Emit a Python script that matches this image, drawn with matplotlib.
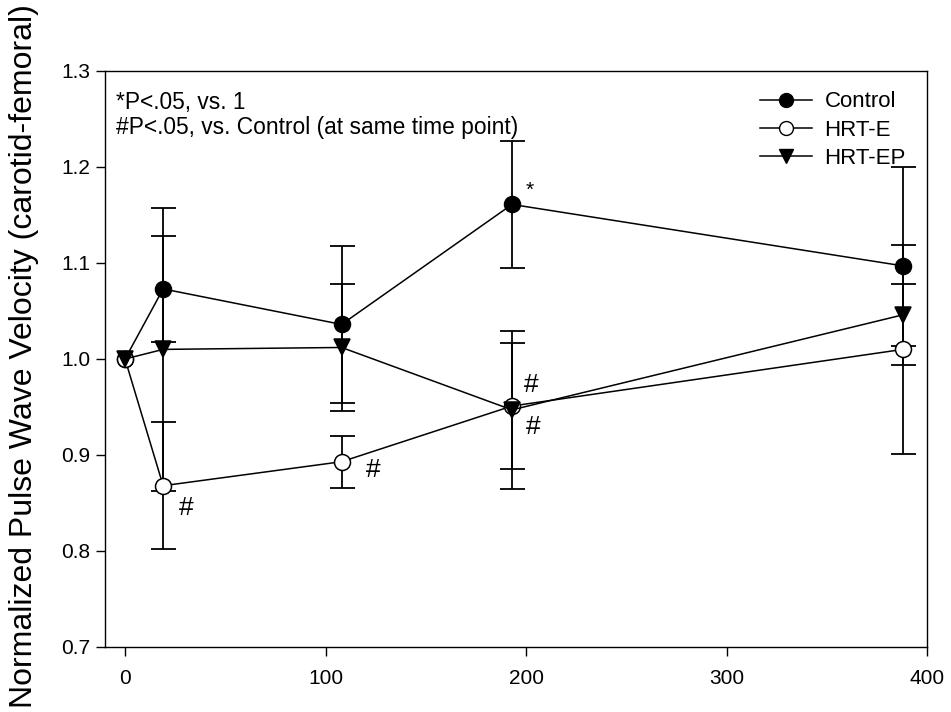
import matplotlib
matplotlib.use("Agg")
import matplotlib.pyplot as plt
from matplotlib.lines import Line2D

plt.rcParams['font.family'] = ['Liberation Sans', 'DejaVu Sans']

# days since start
days = [0, 19, 108, 193, 388]

control = [1.0, 1.073, 1.036, 1.161, 1.097]
control_err = [0, 0.055, 0.082, 0.066, 0.103]

hrt_e = [1.0, 0.868, 0.893, 0.951, 1.010]
hrt_e_err = [0, 0.066, 0.027, 0.066, 0.109]

hrt_ep = [1.0, 1.010, 1.012, 0.947, 1.046]
hrt_ep_err = [0, 0.147, 0.066, 0.082, 0.032]

y_ticks = [0.7, 0.8, 0.9, 1.0, 1.1, 1.2, 1.3]
x_ticks = [0, 100, 200, 300, 400]

# significance marks: (text, x, y, size)
marks = [('*', 200, 1.176, 15),
         ('#', 27, 0.845, 19),
         ('#', 120, 0.884, 19),
         ('#', 199, 0.973, 19),
         ('#', 200, 0.929, 19)]

fig = plt.figure(figsize=(9.51, 7.12), dpi=100)
ax = fig.add_axes([0.1104, 0.0913, 0.8644, 0.809])

series = [(control, control_err, 'o', 'black', 'Control'),
          (hrt_e, hrt_e_err, 'o', 'white', 'HRT-E'),
          (hrt_ep, hrt_ep_err, 'v', 'black', 'HRT-EP')]

# error bars first so markers sit on top
for vals, err, m, fc, name in series:
    ax.errorbar(days[1:], vals[1:], yerr=err[1:], fmt='none', ecolor='black',
                elinewidth=1.3, capsize=9, capthick=1.3, zorder=2)

handles = []
for vals, err, m, fc, name in series:
    ax.plot(days, vals, color='black', lw=1.1, marker=m, markersize=11.5,
            markerfacecolor=fc, markeredgecolor='black', markeredgewidth=1.1, zorder=3)
    handles.append(Line2D([], [], color='black', lw=1.1, marker=m, markersize=10,
                          markerfacecolor=fc, markeredgecolor='black', label=name))

for txt, x, y, s in marks:
    ax.text(x, y, txt, fontsize=s, ha='left', va='center')

ax.text(0.014, 0.965, '*P<.05, vs. 1\n#P<.05, vs. Control (at same time point)',
        transform=ax.transAxes, fontsize=16.4, va='top', ha='left', linespacing=1.1)

ax.legend(handles=handles, loc='upper right', bbox_to_anchor=(0.985, 0.98),
          frameon=False, fontsize=16, handlelength=2.35, handletextpad=0.55,
          labelspacing=0.33, borderaxespad=0)

ax.set_xlim(-10, 400)
ax.set_ylim(0.7, 1.3)
ax.set_xticks(x_ticks)
ax.set_yticks(y_ticks)
ax.set_yticklabels(['%.1f' % v for v in y_ticks])
ax.tick_params(direction='out', length=6.5, width=1, labelsize=15, color='black')
ax.tick_params(axis='x', pad=9)
ax.tick_params(axis='y', pad=4)
for sp in ax.spines.values():
    sp.set_linewidth(1)

ax.set_ylabel('Normalized Pulse Wave Velocity (carotid-femoral)', fontsize=23)
ax.yaxis.set_label_coords(-0.08, 0.505)

fig.savefig('out.png', dpi=100)
